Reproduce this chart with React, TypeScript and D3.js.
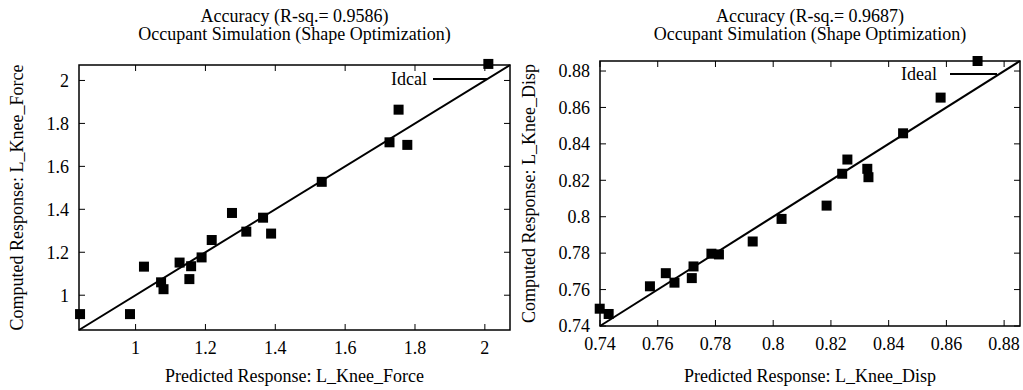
import * as React from "react";
import * as d3 from "d3";

// Left panel: L_Knee_Force
const forcePredicted = [2.01, 1.753, 1.727, 1.778, 1.533, 1.276, 1.365, 1.317, 1.388, 1.218, 1.189, 1.126, 1.159, 1.154, 1.024, 1.073, 1.08, 0.984, 0.841];
const forceComputed = [2.077, 1.864, 1.712, 1.70, 1.528, 1.383, 1.361, 1.296, 1.287, 1.257, 1.176, 1.152, 1.135, 1.075, 1.133, 1.06, 1.028, 0.912, 0.912];
const forceTicks = [1, 1.2, 1.4, 1.6, 1.8, 2];

// Right panel: L_Knee_Disp
const dispPredicted = [0.8708, 0.858, 0.845, 0.8257, 0.8239, 0.8326, 0.833, 0.8185, 0.8029, 0.7929, 0.7786, 0.7812, 0.7724, 0.7718, 0.7628, 0.7658, 0.7573, 0.7399, 0.743];
const dispComputed = [0.8855, 0.8654, 0.8458, 0.8314, 0.8236, 0.8263, 0.8217, 0.8061, 0.7988, 0.7864, 0.7797, 0.7793, 0.7727, 0.7663, 0.769, 0.7638, 0.7618, 0.7495, 0.7466];
const dispTicks = [0.74, 0.76, 0.78, 0.8, 0.82, 0.84, 0.86, 0.88];

const FONT = "Liberation Serif";

interface PanelProps {
  xs: number[];
  ys: number[];
  ticks: number[];
  domain: [number, number];
  box: { left: number; right: number; top: number; bottom: number };
  title: string;
  xLabel: string;
  yLabel: string;
  legend: string;
  legendPos: { textX: number; textY: number; x1: number; x2: number; y: number };
  yLabelX: number;
}

const fmt = (v: number) => String(+v.toFixed(2));

const Panel = (p: PanelProps) => {
  const { box } = p;
  const x = d3.scaleLinear().domain(p.domain).range([box.left, box.right]);
  const y = d3.scaleLinear().domain(p.domain).range([box.bottom, box.top]);
  const tick = 6;
  const cx = (box.left + box.right) / 2;
  const cy = (box.top + box.bottom) / 2;
  const sq = 10;

  return (
    <g style={{ fontFamily: FONT }} fill="#000">
      {/* title */}
      <text x={cx} y={22} textAnchor="middle" fontSize={18}>{p.title}</text>
      <text x={cx} y={40} textAnchor="middle" fontSize={18}>Occupant Simulation (Shape Optimization)</text>

      {/* mirrored inward ticks */}
      {p.ticks.map((t) => (
        <g key={"x" + t}>
          <line x1={x(t)} x2={x(t)} y1={box.bottom} y2={box.bottom - tick} stroke="#000" strokeWidth={1} />
          <line x1={x(t)} x2={x(t)} y1={box.top} y2={box.top + tick} stroke="#000" strokeWidth={1} />
          <text x={x(t)} y={box.bottom + 24} textAnchor="middle" fontSize={18}>{fmt(t)}</text>
        </g>
      ))}
      {p.ticks.map((t) => (
        <g key={"y" + t}>
          <line x1={box.left} x2={box.left + tick} y1={y(t)} y2={y(t)} stroke="#000" strokeWidth={1} />
          <line x1={box.right} x2={box.right - tick} y1={y(t)} y2={y(t)} stroke="#000" strokeWidth={1} />
          <text x={box.left - 10} y={y(t)} dy="0.35em" textAnchor="end" fontSize={18}>{fmt(t)}</text>
        </g>
      ))}

      {/* ideal line */}
      <line x1={x(p.domain[0])} y1={y(p.domain[0])} x2={x(p.domain[1])} y2={y(p.domain[1])} stroke="#000" strokeWidth={2} />

      {/* points */}
      {p.xs.map((v, i) => (
        <rect key={i} x={x(v) - sq / 2} y={y(p.ys[i]) - sq / 2} width={sq} height={sq} fill="#000" />
      ))}

      {/* frame */}
      <rect x={box.left} y={box.top} width={box.right - box.left} height={box.bottom - box.top} fill="none" stroke="#000" strokeWidth={1.5} />

      {/* legend */}
      <text x={p.legendPos.textX} y={p.legendPos.textY} textAnchor="end" fontSize={18}>{p.legend}</text>
      <line x1={p.legendPos.x1} x2={p.legendPos.x2} y1={p.legendPos.y} y2={p.legendPos.y} stroke="#000" strokeWidth={2} />

      {/* axis labels */}
      <text x={cx} y={382} textAnchor="middle" fontSize={18}>{p.xLabel}</text>
      <text transform={`translate(${p.yLabelX},${cy}) rotate(-90)`} textAnchor="middle" fontSize={18}>{p.yLabel}</text>
    </g>
  );
};

export default function App() {
  return (
    <svg width={1023} height={390} style={{ position: "absolute", left: 0, top: 0, background: "#fff" }}>
      <Panel
        xs={forcePredicted}
        ys={forceComputed}
        ticks={forceTicks}
        domain={[0.838, 2.072]}
        box={{ left: 79, right: 510, top: 65, bottom: 330 }}
        title="Accuracy (R-sq.= 0.9586)"
        xLabel="Predicted Response: L_Knee_Force"
        yLabel="Computed Response: L_Knee_Force"
        legend="Idcal"
        legendPos={{ textX: 427, textY: 85, x1: 433, x2: 487, y: 79 }}
        yLabelX={23}
      />
      <Panel
        xs={dispPredicted}
        ys={dispComputed}
        ticks={dispTicks}
        domain={[0.74, 0.8855]}
        box={{ left: 600, right: 1020, top: 61, bottom: 326 }}
        title="Accuracy (R-sq.= 0.9687)"
        xLabel="Predicted Response: L_Knee_Disp"
        yLabel="Computed Response: L_Knee_Disp"
        legend="Ideal"
        legendPos={{ textX: 937, textY: 80, x1: 950, x2: 997, y: 74 }}
        yLabelX={535}
      />
    </svg>
  );
}
